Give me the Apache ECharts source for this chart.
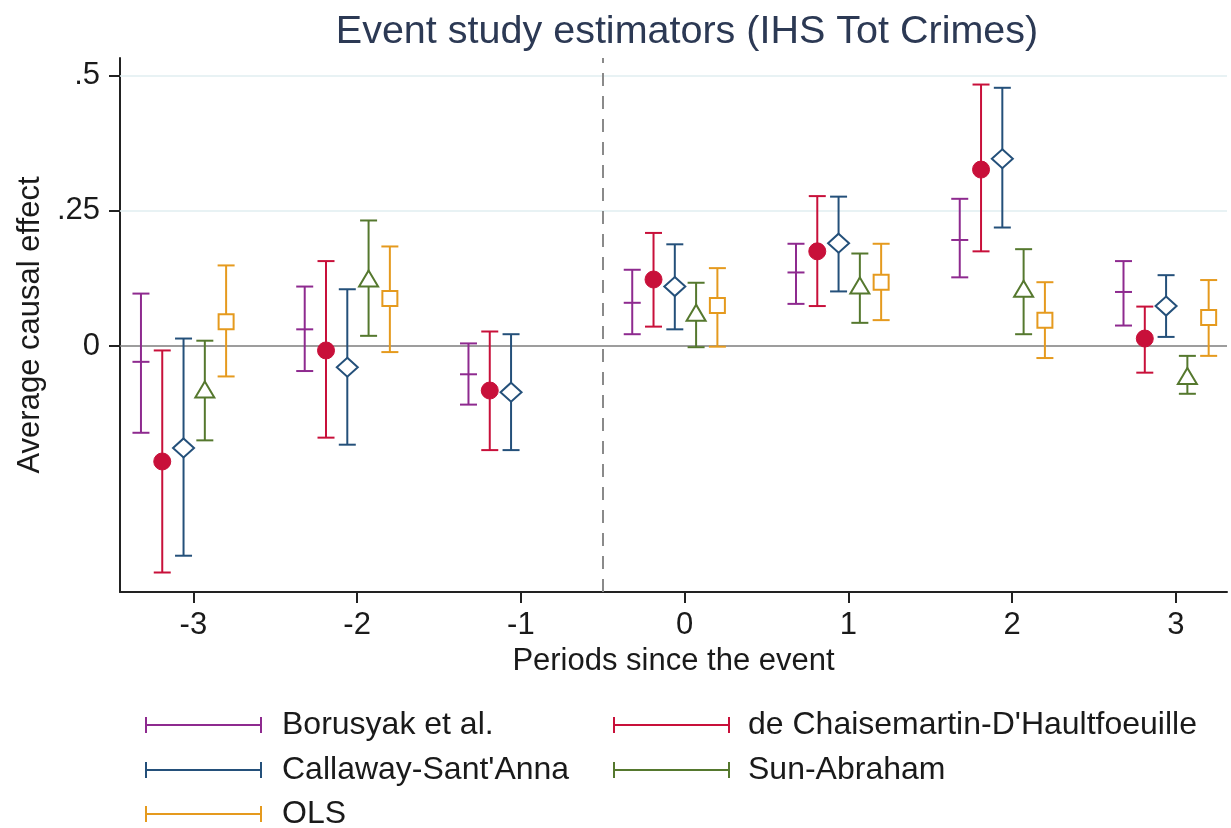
<!DOCTYPE html>
<html>
<head>
<meta charset="utf-8">
<script src="https://cdn.jsdelivr.net/npm/echarts@6/dist/echarts.min.js"></script>
<style>
html,body{margin:0;padding:0;background:#fff;}
#chart{width:1231px;height:828px;}
</style>
</head>
<body>
<div id="chart"></div>
<script>
// ---- data ----
var periods = [-3, -2, -1, 0, 1, 2, 3];
var xTickLabels = ['-3', '-2', '-1', '0', '1', '2', '3'];
var yTicks = [0, 0.25, 0.5];
var yTickLabels = ['0', '.25', '.5'];

var seriesNames = ['Borusyak et al.', 'de Chaisemartin-D\'Haultfoeuille', 'Callaway-Sant\'Anna', 'Sun-Abraham', 'OLS'];

var borEst = [-0.029, 0.031, -0.052, 0.080, 0.136, 0.196, 0.100];
var borLo  = [-0.160, -0.046, -0.108, 0.022, 0.078, 0.127, 0.038];
var borHi  = [0.097, 0.110, 0.005, 0.141, 0.189, 0.272, 0.157];

var dcdhEst = [-0.213, -0.008, -0.082, 0.123, 0.175, 0.326, 0.014];
var dcdhLo  = [-0.418, -0.169, -0.192, 0.036, 0.074, 0.175, -0.049];
var dcdhHi  = [-0.008, 0.157, 0.027, 0.209, 0.277, 0.483, 0.073];

var csEst = [-0.188, -0.039, -0.085, 0.110, 0.190, 0.346, 0.074];
var csLo  = [-0.387, -0.182, -0.192, 0.031, 0.101, 0.219, 0.017];
var csHi  = [0.014, 0.105, 0.022, 0.188, 0.276, 0.477, 0.131];

var saEst = [-0.082, 0.123, null, 0.060, 0.110, 0.104, -0.057];
var saLo  = [-0.174, 0.019, null, -0.002, 0.043, 0.022, -0.088];
var saHi  = [0.010, 0.232, null, 0.117, 0.171, 0.179, -0.018];

var olsEst = [0.045, 0.088, null, 0.075, 0.118, 0.048, 0.053];
var olsLo  = [-0.056, -0.011, null, -0.001, 0.048, -0.022, -0.018];
var olsHi  = [0.149, 0.184, null, 0.144, 0.189, 0.118, 0.122];

// ---- presentation ----
var shifts = [-0.32, -0.19, -0.06, 0.07, 0.20];
var colors = ['#8e2a8f', '#c8103a', '#24507a', '#55782e', '#e59a1e'];
var markers = ['hline', 'circle', 'diamond', 'triangle', 'square'];
var FONT = '"Liberation Sans", Arial, Helvetica, sans-serif';
// legend slot for each series: [left, top]
var legendSlots = [[145, 709], [613, 709], [145, 754], [613, 754], [145, 798]];
var legendTextPad = [15, 13, 15, 13, 15];

var allEst = [borEst, dcdhEst, csEst, saEst, olsEst];
var allLo = [borLo, dcdhLo, csLo, saLo, olsLo];
var allHi = [borHi, dcdhHi, csHi, saHi, olsHi];

function buildData(k) {
  var out = [];
  for (var i = 0; i < periods.length; i++) {
    if (allEst[k][i] === null) continue;
    out.push([periods[i] + shifts[k], allLo[k][i], allHi[k][i], allEst[k][i]]);
  }
  return out;
}

function makeRender(k) {
  var c = colors[k], m = markers[k];
  return function (params, api) {
    var x = api.value(0);
    var pLo = api.coord([x, api.value(1)]);
    var pHi = api.coord([x, api.value(2)]);
    var pE = api.coord([x, api.value(3)]);
    var hw = 8.5, lw = 2;
    var st = {stroke: c, lineWidth: lw, fill: null};
    var ch = [
      {type: 'line', shape: {x1: pLo[0], y1: pLo[1], x2: pHi[0], y2: pHi[1]}, style: st},
      {type: 'line', shape: {x1: pLo[0] - hw, y1: pLo[1], x2: pLo[0] + hw, y2: pLo[1]}, style: st},
      {type: 'line', shape: {x1: pHi[0] - hw, y1: pHi[1], x2: pHi[0] + hw, y2: pHi[1]}, style: st}
    ];
    var cx = pE[0], cy = pE[1];
    if (m === 'hline') {
      ch.push({type: 'line', shape: {x1: cx - hw, y1: cy, x2: cx + hw, y2: cy}, style: st});
    } else if (m === 'circle') {
      ch.push({type: 'circle', shape: {cx: cx, cy: cy, r: 8.5}, style: {fill: c, stroke: c, lineWidth: 1}});
    } else if (m === 'diamond') {
      ch.push({type: 'polygon', shape: {points: [[cx, cy - 9.5], [cx + 10.5, cy], [cx, cy + 9.5], [cx - 10.5, cy]]},
        style: {fill: '#fff', stroke: c, lineWidth: 2}});
    } else if (m === 'triangle') {
      ch.push({type: 'polygon', shape: {points: [[cx, cy - 9], [cx + 9.5, cy + 7], [cx - 9.5, cy + 7]]},
        style: {fill: '#fff', stroke: c, lineWidth: 2}});
    } else if (m === 'square') {
      ch.push({type: 'rect', shape: {x: cx - 7.5, y: cy - 7.5, width: 15, height: 15},
        style: {fill: '#fff', stroke: c, lineWidth: 2}});
    }
    return {type: 'group', children: ch};
  };
}

var series = [];
// reference lines
series.push({
  type: 'scatter', data: [], silent: true, z: 1,
  markLine: {
    silent: true, symbol: ['none', 'none'], animation: false,
    label: {show: false},
    data: [
      {yAxis: 0.25, lineStyle: {color: '#e1eef0', width: 1.5, type: 'solid'}},
      {yAxis: 0.5, lineStyle: {color: '#e1eef0', width: 1.5, type: 'solid'}},
      {yAxis: 0, lineStyle: {color: '#7c7c7c', width: 1.5, type: 'solid'}},
      {xAxis: -0.5, lineStyle: {color: '#8a8a8a', width: 2, type: [13, 10]}}
    ]
  }
});
for (var k = 0; k < seriesNames.length; k++) {
  series.push({
    type: 'custom', name: seriesNames[k], z: 5,
    itemStyle: {color: colors[k]},
    renderItem: makeRender(k),
    encode: {x: 0, y: [1, 2, 3]},
    data: buildData(k)
  });
}

var legendIcon = 'path://M0,0h2v16h-2z M0,7h117v2h-117z M115,0h2v16h-2z';
var legends = seriesNames.map(function (nm, i) {
  return {
    orient: 'horizontal', left: legendSlots[i][0], top: legendSlots[i][1],
    itemWidth: 117, itemHeight: 16, padding: 0, selectedMode: false,
    data: [{name: nm, icon: legendIcon}],
    textStyle: {fontFamily: FONT, fontSize: 32, color: '#1a1a1a', padding: [0, 0, 0, legendTextPad[i]]}
  };
});

var chart = echarts.init(document.getElementById('chart'), null, {renderer: 'canvas'});
chart.setOption({
  animation: false,
  backgroundColor: '#ffffff',
  title: {
    text: 'Event study estimators (IHS Tot Crimes)',
    left: 682, top: 7, textAlign: 'center',
    textStyle: {fontFamily: FONT, fontSize: 39.5, fontWeight: 'normal', color: '#2c3954'}
  },
  grid: {left: 120, right: 4, top: 58, bottom: 236, containLabel: false},
  legend: legends,
  xAxis: {
    type: 'value', min: -3.448, max: 3.312,
    name: 'Periods since the event', nameLocation: 'middle', nameGap: 49,
    nameTextStyle: {fontFamily: FONT, fontSize: 31, color: '#1a1a1a'},
    axisLine: {show: true, onZero: false, lineStyle: {color: '#222', width: 2}},
    axisTick: {show: true, customValues: periods, length: 11, lineStyle: {color: '#222', width: 2}},
    axisLabel: {
      customValues: periods, margin: 18,
      fontFamily: FONT, fontSize: 31, color: '#1a1a1a',
      formatter: function (v) { var i = periods.indexOf(Math.round(v)); return i >= 0 ? xTickLabels[i] : ''; }
    },
    splitLine: {show: false}
  },
  yAxis: {
    type: 'value', min: -0.454, max: 0.532,
    name: 'Average causal effect', nameLocation: 'middle', nameGap: 74,
    nameTextStyle: {fontFamily: FONT, fontSize: 31, color: '#1a1a1a'},
    axisLine: {show: true, onZero: false, lineStyle: {color: '#222', width: 2}},
    axisTick: {show: true, customValues: yTicks, length: 11, lineStyle: {color: '#222', width: 2}},
    axisLabel: {
      customValues: yTicks, margin: 20,
      fontFamily: FONT, fontSize: 31, color: '#1a1a1a',
      formatter: function (v) {
        for (var i = 0; i < yTicks.length; i++) { if (Math.abs(yTicks[i] - v) < 1e-9) return yTickLabels[i]; }
        return '';
      }
    },
    splitLine: {show: false}
  },
  series: series
});
</script>
</body>
</html>
